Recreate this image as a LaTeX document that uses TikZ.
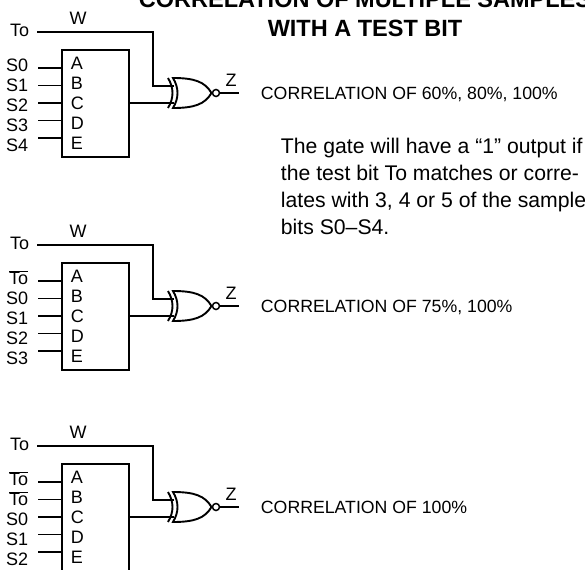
\documentclass[tikz,border=0pt]{standalone}
\usepackage{fontspec}
\setmainfont{Liberation Sans}
\begin{document}
\begin{tikzpicture}[x=1pt,y=-1pt,line width=1.9pt,line join=miter,
	every node/.style={inner sep=0pt},
	font=\fontsize{18}{20}\selectfont]
	\useasboundingbox (0,0) rectangle (585,569);
	\tikzset{
		heading/.style={font=\fontsize{23.5}{28}\selectfont\bfseries,anchor=base},
		notetext/.style={font=\fontsize{21.2}{26.7}\selectfont,anchor=base west},
		corrtext/.style={font=\fontsize{17.7}{20}\selectfont,anchor=base west}
	}
	% title and note
	\node[heading] (title1) at (365,8) {CORRELATION OF MULTIPLE SAMPLES};
	\node[heading] (title2) at (365,36.7) {WITH A TEST BIT};
	\foreach \ln [count=\i from 0] in {The gate will have a “1” output if,
		the test bit To matches or corre-,{lates with 3, 4 or 5 of the sample},bits S0–S4.}
	\node[notetext] (note\i) at (280,154+26.7*\i) {\ln};
	% three correlator blocks
	\foreach \k/\dy/\lbls/\pct in {1/0/{S0,S1,S2,S3,S4}/{60\%, 80\%, 100\%},
		2/213/{$\overline{\hbox{To}}$,S0,S1,S2,S3}/{75\%, 100\%},
		3/414/{$\overline{\hbox{To}}$,$\overline{\hbox{To}}$,S0,S1,S2}/{100\%}}
	{
		\begin{scope}[yshift=-\dy pt]
			\node[draw,line width=1.9pt,anchor=north west,minimum width=67pt,minimum height=107pt] (box\k) at (61,49) {};
			\foreach \l [count=\i from 0] in \lbls {
				\node[anchor=base east] (lab\k\i) at (29,71.5+20*\i) {\l};
				\coordinate (src\k\i) at (38,68+17.5*\i);
				\coordinate (in\k\i) at (61,68+17.5*\i);
				\draw (src\k\i) -- (in\k\i);
			}
			\foreach \c [count=\i from 0] in {A,B,C,D,E}
			\node[anchor=base west] (pin\k\i) at (70,69.5+20*\i) {\c};
			% test bit line
			\node[anchor=base east] (to\k) at (30,36.5) {To};
			\node[anchor=base] (w\k) at (78,24.5) {W};
			\path
			(37,32) coordinate (tsrc\k)
			(153,32) coordinate (bend\k)
			(174,86) coordinate (ga\k)
			(128,103) coordinate (out\k)
			(174,103) coordinate (gb\k)
			(216,93) coordinate (bub\k)
			(239,93) coordinate (z\k)
			;
			\draw (tsrc\k) -- (bend\k) |- (ga\k);
			\draw (out\k) -- (gb\k);
			% xnor gate
			\draw (173,78) .. controls (195,78) and (205,82) .. (211.5,93)
			.. controls (205,104) and (195,108) .. (173,108)
			.. controls (179,98) and (179,88) .. cycle;
			\draw (168,78) .. controls (174,88) and (174,98) .. (168,108);
			\draw[line width=1.5pt] (bub\k) circle (3.5);
			\draw (bub\k) ++(3.5,0) -- (z\k);
			\node[anchor=base] (zl\k) at (231,86.7) {Z};
			\node[corrtext] (corr\k) at (260,99.5) {CORRELATION OF \pct};
		\end{scope}
	}
\end{tikzpicture}
\end{document}
